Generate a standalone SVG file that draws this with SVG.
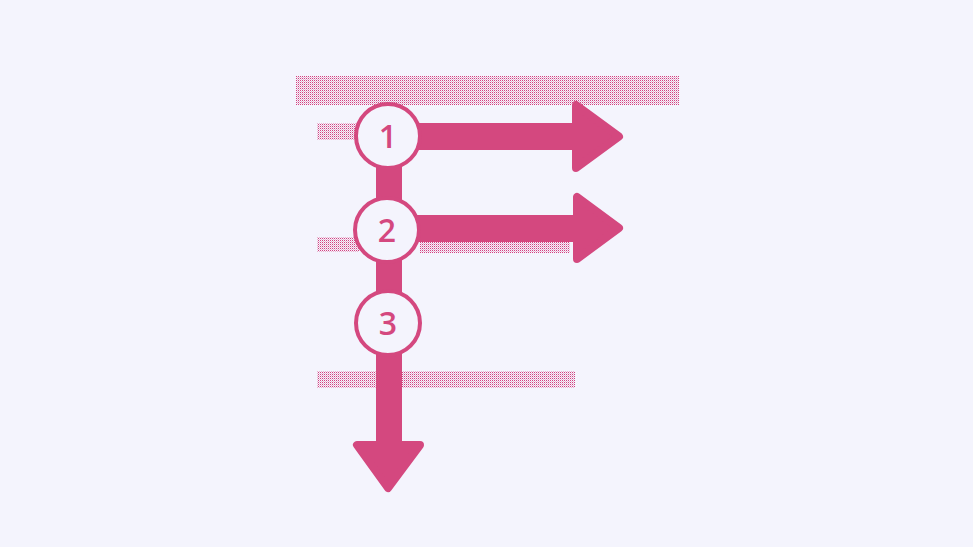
<svg xmlns="http://www.w3.org/2000/svg" width="973" height="547" viewBox="0 0 973 547">
<defs>
<pattern id="dots" width="2" height="2" patternUnits="userSpaceOnUse">
<rect width="1" height="1" fill="#d4407f"/>
<rect x="1" y="1" width="1" height="1" fill="#d4407f" opacity="0.35"/>
</pattern>
</defs>
<style>
.band{fill:url(#dots)}
.shaft{fill:#d4487f}
.head{fill:#d4487f;stroke:#d4487f;stroke-width:8;stroke-linejoin:round}
.node circle{fill:#f4f4fd;stroke:#d4487f;stroke-width:4}
.node text{font-family:"Open Sans","Liberation Sans",sans-serif;font-size:32px;font-weight:600;fill:#d4487f;text-anchor:middle}
</style>
<rect width="973" height="547" fill="#f4f4fd"/>
<g id="bands">
<rect class="band" x="296" y="76" width="383" height="29"/>
<rect class="band" x="317" y="123" width="40" height="17"/>
<rect class="band" x="317" y="237" width="42" height="15"/>
<rect class="band" x="420" y="240" width="150" height="13"/>
<rect class="band" x="317" y="371" width="258" height="17"/>
</g>
<g id="connectors">
<rect class="shaft" x="376" y="150" width="26" height="300"/>
<polygon class="head" points="357,445 420,445 388,488"/>
<rect class="shaft" x="400" y="123" width="175" height="27"/>
<polygon class="head" points="576,105 576,168 619,136.5"/>
<rect class="shaft" x="400" y="215" width="177" height="27"/>
<polygon class="head" points="577,197 577,259 619,228"/>
</g>
<g id="node1" class="node"><circle cx="388" cy="136" r="32"/><text x="388" y="148">1</text></g>
<g id="node2" class="node"><circle cx="387" cy="230" r="32"/><text x="387" y="242">2</text></g>
<g id="node3" class="node"><circle cx="388" cy="323" r="32"/><text x="388" y="335">3</text></g>
</svg>
